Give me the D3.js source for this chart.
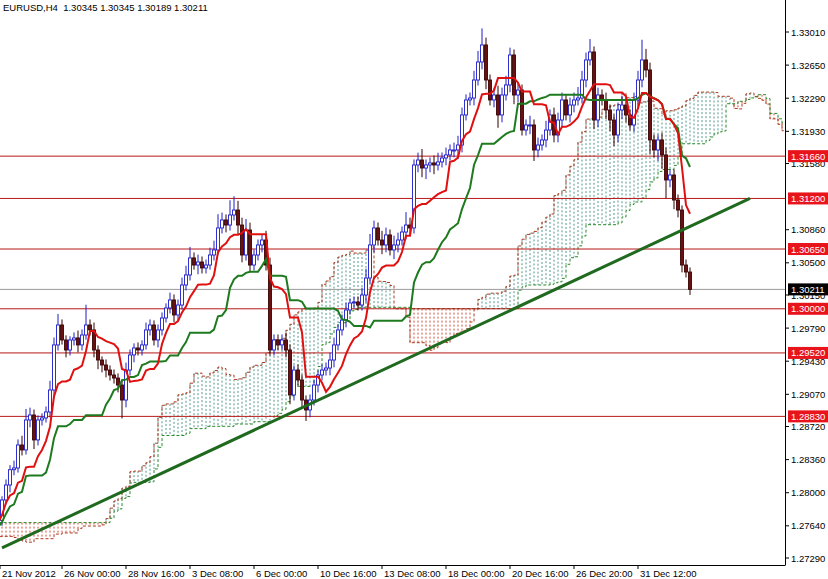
<!DOCTYPE html>
<html><head><meta charset="utf-8">
<script src="https://cdn.jsdelivr.net/npm/d3@7"></script>
<style>body{margin:0;background:#fff}svg{display:block}</style>
</head><body><svg id="c" width="828" height="579"></svg>
<script>
const title = "EURUSD,H4  1.30345 1.30345 1.30189 1.30211";
const preCloses = [1.2805,1.2800,1.2790,1.2780,1.2770,1.2765,1.2750,1.2740,1.2735,1.2730,1.2735,1.2740,1.2745,1.2735,1.2730,1.2740,1.2745,1.2740,1.2735,1.2730,1.2735,1.2740,1.2745,1.2740,1.2735,1.2740,
1.2745,1.2750,1.2760,1.2755,1.2745,1.2740,1.2750,1.2760,1.2765,1.2755,1.2745,1.2750,1.2765,1.2775,1.2770,1.2760,1.2750,1.2755,1.2770,1.2785,1.2780,1.2770,1.2765,1.2775,1.2780,1.2770];
const closes = [
1.27921,1.28084,1.28250,1.28269,1.28519,1.28465,1.28791,1.28845,1.28574,1.28791,
1.28813,1.28878,1.29117,1.29607,1.29824,1.29661,1.29552,1.29661,1.29683,1.29607,
1.29715,1.29824,1.29770,1.29552,1.29443,1.29389,1.29334,1.29280,1.29247,1.29171,
1.29008,1.29334,1.29498,1.29574,1.29552,1.29607,1.29770,1.29824,1.29661,1.29770,
1.29900,1.30009,1.30096,1.29933,1.30041,1.30259,1.30368,1.30553,1.30476,1.30509,
1.30444,1.30476,1.30585,1.30640,1.30879,1.30966,1.30911,1.31020,1.31074,1.30911,
1.30585,1.30857,1.30476,1.30585,1.30694,1.30748,1.30476,1.29552,1.29661,1.29607,
1.29661,1.29552,1.29063,1.29334,1.29226,1.29008,1.28900,1.29008,1.29171,1.29280,
1.29334,1.29356,1.29443,1.29607,1.29770,1.29878,1.29987,1.30063,1.30074,1.30041,
1.30150,1.30335,1.30694,1.30879,1.30748,1.30694,1.30803,1.30640,1.30694,1.30748,
1.30835,1.30911,1.30879,1.31564,1.31618,1.31531,1.31564,1.31586,1.31564,1.31597,
1.31640,1.31673,1.31727,1.31727,1.31781,1.32108,1.32271,1.32292,1.32488,1.32684,
1.32869,1.32488,1.32271,1.32325,1.32108,1.32325,1.32434,1.32760,1.32325,1.32379,
1.31944,1.31999,1.31999,1.31727,1.31781,1.31836,1.31944,1.32108,1.31890,1.32053,
1.32271,1.32108,1.32216,1.32271,1.32292,1.32488,1.32706,1.32793,1.32053,1.32325,
1.32271,1.32162,1.32053,1.31890,1.32162,1.32216,1.32108,1.31999,1.32271,1.32488,
1.32706,1.32597,1.31836,1.31727,1.31836,1.31673,1.31401,1.31455,1.31183,1.31074,
1.30476,1.30400,1.30211];
const hiWick = [4,6,5,8,6,10,12,8,6,5, 5,6,10,8,12,6,5,4,6,8, 6,22,6,8,5,4,6,5,6,5,
6,8,6,5,6,5,8,6,5,6, 6,5,8,6,6,8,10,12,6,8, 6,6,8,10,15,8,6,16,15,10,
8,12,8,6,6,6,10,8,6,6, 6,8,6,5,6,6,5,6,6,5, 6,6,8,8,6,6,8,5,6,6,
8,10,12,8,6,10,8,6,10,8, 6,14,8,6,8,12,6,6,8,10, 6,8,6,8,10,8,6,6,10,12,
18,8,6,8,10,8,10,8,6,8, 6,6,10,6,8,6,10,6,8,8, 8,6,8,8,12,10,8,14,6,8,
6,8,6,6,8,10,8,6,8,10, 22,12,8,6,6,8,8,6,6,6, 5,6,5];
const loWick = [6,5,8,6,5,6,5,8,10,6, 6,5,6,8,6,5,8,6,6,8, 6,5,6,8,10,8,8,6,6,8,
20,8,6,8,6,6,5,6,6,8, 6,5,6,8,6,5,6,6,5,10, 6,6,5,6,5,6,8,6,6,10,
8,6,8,6,6,8,6,6,6,6, 6,8,10,6,6,8,12,8,6,8, 6,6,8,8,6,6,8,5,6,6,
6,8,6,8,6,10,8,6,10,8, 6,8,8,6,8,10,12,8,10,6, 6,8,6,8,10,8,6,6,8,6,
8,10,6,8,14,8,6,8,10,8, 6,6,10,12,8,6,8,6,8,8, 8,6,8,8,6,6,8,6,10,8,
6,10,12,12,8,10,8,6,8,8, 8,8,15,8,12,15,20,8,10,8, 8,6,6];
const dateLabels = ["21 Nov 2012","26 Nov 00:00","28 Nov 16:00","3 Dec 08:00","6 Dec 00:00","10 Dec 16:00","13 Dec 08:00","18 Dec 00:00","20 Dec 16:00","26 Dec 20:00","31 Dec 12:00"];
const priceTicks = [1.33010,1.32650,1.32290,1.31930,1.31580,1.30860,1.30500,1.30150,1.29790,1.29430,1.29070,1.28720,1.28360,1.28000,1.27640,1.27290];
const levels = [1.31660,1.31200,1.30650,1.30000,1.29520,1.28830];
const bidPrice = 1.30211;
const trendBars = [0, 187];
const trendPrices = [1.2740, 1.3120];

const plotR=785, plotB=565;
const svg=d3.select("#c");
const y=d3.scaleLinear().domain([1.27290,1.33010]).range([558,32]);
const x=d3.scaleLinear().domain([0,1]).range([2,6]);
const P=preCloses.length;

const all=[];
const allC=preCloses.concat(closes);
for(let k=0;k<allC.length;k++){
  const o=k===0?allC[0]:allC[k-1], c=allC[k], i=k-P;
  let h=Math.max(o,c), l=Math.min(o,c);
  if(i>=0){h+=hiWick[i]*0.0001; l-=loWick[i]*0.0001;}
  all.push({i,o,c,h,l});
}
function mid(k,n){const s=all.slice(Math.max(0,k-n+1),k+1);return (d3.max(s,d=>d.h)+d3.min(s,d=>d.l))/2;}
const tenkan=all.map((d,k)=>({i:d.i,v:mid(k,9)}));
const kijun=all.map((d,k)=>({i:d.i,v:mid(k,26)}));
const cloud=all.map((d,k)=>({i:d.i+26,a:(tenkan[k].v+kijun[k].v)/2,b:mid(k,52)}));

const g=svg.append("g");
svg.append("defs").append("clipPath").attr("id","pc").append("rect").attr("x",0).attr("y",0).attr("width",plotR).attr("height",plotB);
const pg=g.append("g").attr("clip-path","url(#pc)");

cloud.forEach(d=>{
  const xx=x(d.i); const up=d.a>=d.b;
  pg.append("line").attr("x1",xx).attr("x2",xx).attr("y1",y(Math.max(d.a,d.b))).attr("y2",y(Math.min(d.a,d.b)))
    .attr("stroke",up?"#4f9a8c":"#d0503a").attr("stroke-width",1).attr("stroke-dasharray","2,2");
});
const ln=(k)=>d3.line().x(d=>x(d.i)).y(d=>y(d[k])).curve(d3.curveStepAfter);
pg.append("path").datum(cloud).attr("d",ln("a")).attr("fill","none").attr("stroke","#b03a20").attr("stroke-width",1).attr("stroke-dasharray","3,2");
pg.append("path").datum(cloud).attr("d",ln("b")).attr("fill","none").attr("stroke","#2a8a2a").attr("stroke-width",1).attr("stroke-dasharray","3,2");

levels.forEach(v=>pg.append("line").attr("x1",0).attr("x2",plotR).attr("y1",y(v)).attr("y2",y(v)).attr("stroke","#b81818").attr("stroke-width",1));
pg.append("line").attr("x1",0).attr("x2",plotR).attr("y1",y(bidPrice)).attr("y2",y(bidPrice)).attr("stroke","#999").attr("stroke-width",1);

all.filter(d=>d.i>=0).forEach(d=>{
  const up=d.c>=d.o, xx=x(d.i);
  const col=up?"#1c1cc8":"#300";
  pg.append("line").attr("x1",xx).attr("x2",xx).attr("y1",y(d.h)).attr("y2",y(d.l)).attr("stroke",col).attr("stroke-width",1);
  const t=y(Math.max(d.o,d.c)), b=y(Math.min(d.o,d.c));
  pg.append("rect").attr("x",xx-1.5).attr("y",t).attr("width",3).attr("height",Math.max(1,b-t))
    .attr("fill",up?"#fff":"#6a1010").attr("stroke",up?"#1c1cc8":"#3a0505").attr("stroke-width",0.9);
});

const lv=d3.line().x(d=>x(d.i)).y(d=>y(d.v));
pg.append("path").datum(kijun).attr("d",lv).attr("fill","none").attr("stroke","#1e7a1e").attr("stroke-width",2);
pg.append("path").datum(tenkan).attr("d",lv).attr("fill","none").attr("stroke","#e01010").attr("stroke-width",2);

pg.append("line").attr("x1",x(trendBars[0])).attr("x2",x(trendBars[1])).attr("y1",y(trendPrices[0])).attr("y2",y(trendPrices[1]))
  .attr("stroke","#1f6a1f").attr("stroke-width",3);

g.append("line").attr("x1",plotR+0.5).attr("x2",plotR+0.5).attr("y1",0).attr("y2",plotB).attr("stroke","#000");
g.append("line").attr("x1",0).attr("x2",plotR+0.5).attr("y1",plotB+0.5).attr("y2",plotB+0.5).attr("stroke","#000");
const font="'Liberation Sans', Arial, sans-serif", fs=9.5;
priceTicks.forEach(v=>{
  g.append("line").attr("x1",plotR).attr("x2",plotR+4).attr("y1",y(v)).attr("y2",y(v)).attr("stroke","#000");
  g.append("text").attr("x",plotR+6).attr("y",y(v)+3.5).text(v.toFixed(5)).attr("font-family",font).attr("font-size",fs).attr("fill","#000");
});
levels.forEach(v=>{
  g.append("rect").attr("x",plotR+3).attr("y",y(v)-6).attr("width",40).attr("height",12).attr("fill","#e8141c");
  g.append("text").attr("x",plotR+6).attr("y",y(v)+3.5).text(v.toFixed(5)).attr("font-family",font).attr("font-size",fs).attr("fill","#fff");
});
g.append("rect").attr("x",plotR+3).attr("y",y(bidPrice)-6).attr("width",40).attr("height",12).attr("fill","#000");
g.append("text").attr("x",plotR+6).attr("y",y(bidPrice)+3.5).text(bidPrice.toFixed(5)).attr("font-family",font).attr("font-size",fs).attr("fill","#fff");

dateLabels.forEach((t,k)=>{
  const xx=k===0?0:x(k*16)-4;
  g.append("line").attr("x1",xx).attr("x2",xx).attr("y1",plotB).attr("y2",plotB+4).attr("stroke","#000");
  g.append("text").attr("x",xx+2).attr("y",577).text(t).attr("font-family",font).attr("font-size",fs).attr("fill","#000");
});
g.append("text").attr("x",3).attr("y",11).text(title).attr("font-family",font).attr("font-size",fs).attr("fill","#000").style("white-space","pre");
</script></body></html>
